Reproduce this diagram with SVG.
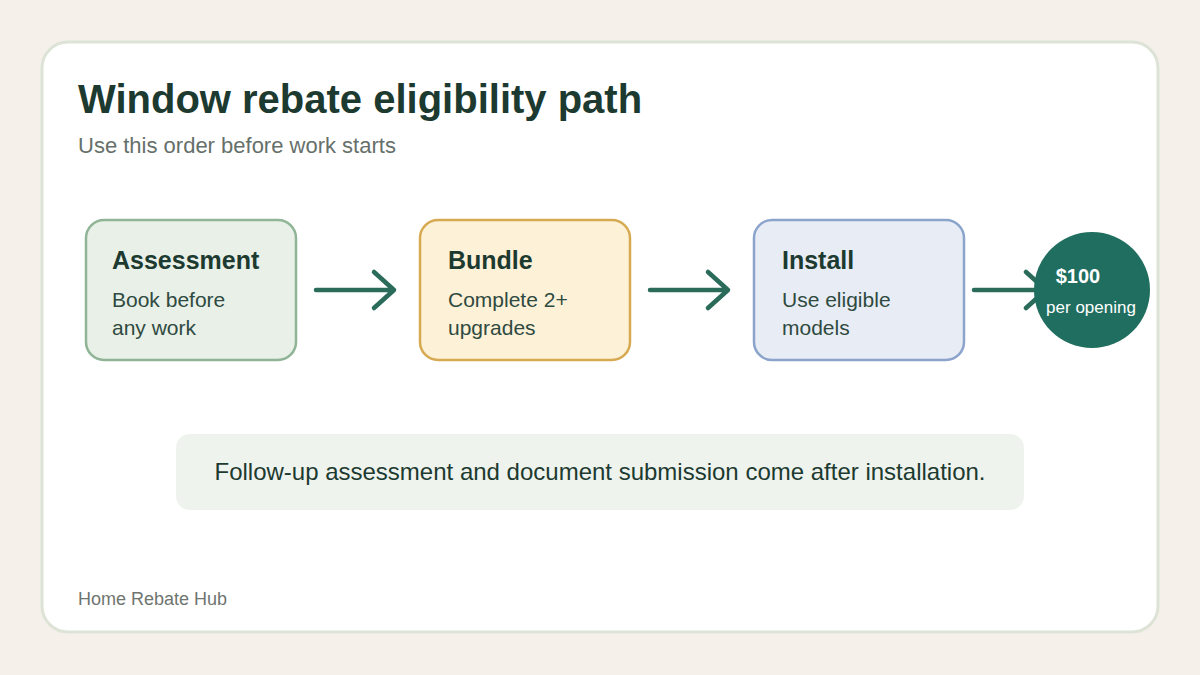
<svg xmlns="http://www.w3.org/2000/svg" width="1200" height="675" viewBox="0 0 1200 675">
<defs>
<style>
.t{font-family:"Liberation Sans",Arial,sans-serif}
.nt{font-family:"Liberation Sans",Arial,sans-serif;font-size:25px;font-weight:bold;fill:#1d3a30}
.nb{font-family:"Liberation Sans",Arial,sans-serif;font-size:21px;fill:#2f4a40}
.conn{stroke:#2a6b5a;stroke-width:4.5;fill:none;stroke-linecap:round;stroke-linejoin:round}
</style>
</defs>
<rect width="1200" height="675" fill="#f5f1ea"/>
<rect x="42" y="42" width="1116" height="590" rx="26" fill="#ffffff" stroke="#dde3d6" stroke-width="3"/>
<text class="t" x="78" y="113" font-size="40" font-weight="bold" fill="#1d3a30">Window rebate eligibility path</text>
<text class="t" x="78" y="153" font-size="22" fill="#66706a">Use this order before work starts</text>
<g id="connectors">
<path class="conn" d="M316 290H394M374 272L394 290L374 308"/>
<path class="conn" d="M650 290H728M708 272L728 290L708 308"/>
<path class="conn" d="M974 290H1046M1026 272L1046 290L1026 308"/>
</g>
<g id="assessment">
<rect x="86" y="220" width="210" height="140" rx="18" fill="#e8f0e8" stroke="#90b496" stroke-width="2.5"/>
<text class="nt" x="112" y="269">Assessment</text>
<text class="nb" x="112" y="307">Book before</text>
<text class="nb" x="112" y="335">any work</text>
</g>
<g id="bundle">
<rect x="420" y="220" width="210" height="140" rx="18" fill="#fdf1d8" stroke="#d7aa52" stroke-width="2.5"/>
<text class="nt" x="448" y="269">Bundle</text>
<text class="nb" x="448" y="307">Complete 2+</text>
<text class="nb" x="448" y="335">upgrades</text>
</g>
<g id="install">
<rect x="754" y="220" width="210" height="140" rx="18" fill="#e8edf5" stroke="#8ca4cb" stroke-width="2.5"/>
<text class="nt" x="782" y="269">Install</text>
<text class="nb" x="782" y="307">Use eligible</text>
<text class="nb" x="782" y="335">models</text>
</g>
<g id="rebate">
<circle cx="1092" cy="290" r="58" fill="#1f6e5f"/>
<text class="t" x="1078" y="283" font-size="20" font-weight="bold" fill="#ffffff" text-anchor="middle">$100</text>
<text class="t" x="1091" y="313" font-size="17" fill="#ffffff" text-anchor="middle">per opening</text>
</g>
<g id="note">
<rect x="176" y="434" width="848" height="76" rx="14" fill="#eef3ee"/>
<text class="t" x="600" y="480" font-size="24" fill="#1d3a30" text-anchor="middle">Follow-up assessment and document submission come after installation.</text>
</g>
<text class="t" x="78" y="605" font-size="18" fill="#6f7570">Home Rebate Hub</text>
</svg>
